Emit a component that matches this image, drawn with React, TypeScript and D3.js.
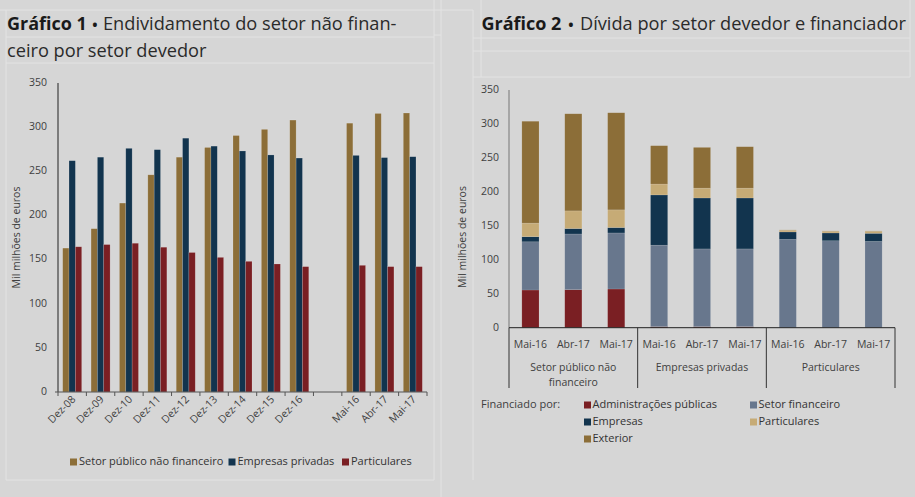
import React from "react";
import * as d3 from "d3";

// ---------- Chart 1 data ----------
const cats1 = ["Dez-08", "Dez-09", "Dez-10", "Dez-11", "Dez-12", "Dez-13", "Dez-14", "Dez-15", "Dez-16", "", "Mai-16", "Abr-17", "Mai-17"];
const setorPublico = [163, 185, 214, 246, 266, 277, 290.5, 297.5, 308, null, 304.5, 315.5, 316];
const empresasPrivadas = [262, 266, 276, 274.5, 287.5, 278.5, 273, 268.5, 265, null, 268, 265.5, 266.5];
const particulares = [164.5, 167, 168.5, 164, 158, 152.5, 148, 145, 142, null, 143.5, 142, 142];
const series1Names = ["Setor público não financeiro", "Empresas privadas", "Particulares"];
const yTicks1 = [0, 50, 100, 150, 200, 250, 300, 350];

// ---------- Chart 2 data ----------
const groups2 = ["Setor público não|financeiro", "Empresas privadas", "Particulares"];
const periods2 = ["Mai-16", "Abr-17", "Mai-17"];
const admPublicas = [55.5, 56, 57, 1.5, 1.5, 1.5, 0, 0, 0];
const setorFinanceiro = [71, 82, 82.5, 120, 114.5, 114.5, 130, 128, 127];
const empresas = [7.5, 8, 8, 74, 75, 75, 11, 11.5, 12];
const particularesFin = [20, 26, 26, 16, 14.5, 14.5, 2.5, 2.5, 3];
const exterior = [150, 143, 143, 56.5, 60, 61, 0.5, 0.5, 0.5];
const series2Names = ["Administrações públicas", "Setor financeiro", "Empresas", "Particulares", "Exterior"];
const yTicks2 = [0, 50, 100, 150, 200, 250, 300, 350];

const GOLD = "#8c6e38";
const NAVY = "#12344e";
const RED = "#7a1f23";
const GRAYBLUE = "#68778d";
const BEIGE = "#c6ab76";
const colors1 = [GOLD, NAVY, RED];
const colors2 = [RED, GRAYBLUE, NAVY, BEIGE, GOLD];

const FONT = "'Open Sans', 'DejaVu Sans', sans-serif";
const LINE = "#e3e3e3";

function Chart1() {
  const x = d3.scaleBand<number>().domain(d3.range(cats1.length)).range([58, 427]).padding(0);
  const y = d3.scaleLinear().domain([0, 350]).range([392, 83]);
  const bw = x.bandwidth();
  const groupW = bw * 0.67;
  const inner = d3.scaleBand<number>().domain([0, 1, 2]).range([0, groupW]).padding(0);
  const data = [setorPublico, empresasPrivadas, particulares];
  const boundaries = d3.range(cats1.length + 1).map((i) => 58 + i * bw);

  return (
    <g>
      <text transform={`translate(17,237.5) rotate(-90)`} textAnchor="middle" dominantBaseline="middle" fontSize={10.5} fill="#404040" fontFamily={FONT}>
        Mil milhões de euros
      </text>
      {yTicks1.map((t) => (
        <text key={t} x={47} y={y(t)} textAnchor="end" dominantBaseline="middle" fontSize={10.5} fill="#404040" fontFamily={FONT}>
          {t}
        </text>
      ))}
      {data.map((s, si) =>
        s.map((v, i) =>
          v == null ? null : (
            <rect
              key={`${si}-${i}`}
              x={(x(i) as number) + (bw - groupW) / 2 + (inner(si) as number)}
              y={y(v)}
              width={inner.bandwidth()}
              height={y(0) - y(v)}
              fill={colors1[si]}
              stroke="rgba(255,255,255,0.25)"
              strokeWidth={0.6}
            />
          )
        )
      )}
      <line x1={58} x2={58} y1={83} y2={392} stroke="#222" strokeWidth={1} />
      <line x1={55} x2={427} y1={392} y2={392} stroke="#555" strokeWidth={1} />
      {boundaries.map((b, i) => (
        <line key={i} x1={b} x2={b} y1={392} y2={396} stroke="#555" strokeWidth={1} />
      ))}
      {cats1.map((c, i) =>
        c ? (
          <text
            key={c + i}
            transform={`translate(${(x(i) as number) + bw / 2 + 4},${400}) rotate(-45)`}
            textAnchor="end"
            fontSize={10.5}
            fill="#404040"
            fontFamily={FONT}
          >
            {c}
          </text>
        ) : null
      )}
      {series1Names.map((n, i) => {
        const lx = [70, 228.5, 342][i];
        return (
          <g key={n}>
            <rect x={lx} y={458.5} width={7} height={7} fill={colors1[i]} />
            <text x={lx + 9} y={462} dominantBaseline="middle" fontSize={11} fill="#333" fontFamily={FONT}>
              {n}
            </text>
          </g>
        );
      })}
    </g>
  );
}

function Chart2() {
  const n = periods2.length * groups2.length;
  const x = d3.scaleBand<number>().domain(d3.range(n)).range([509, 895]).paddingInner(0.6).paddingOuter(0.3);
  const y = d3.scaleLinear().domain([0, 350]).range([327.7, 90]);
  const table = d3.range(n).map((i) => ({
    i,
    a: admPublicas[i],
    b: setorFinanceiro[i],
    c: empresas[i],
    d: particularesFin[i],
    e: exterior[i],
  }));
  const stack = d3.stack<any>().keys(["a", "b", "c", "d", "e"]);
  const layers = stack(table);
  const groupW = (895 - 509) / groups2.length;
  const seps = d3.range(groups2.length + 1).map((g) => 509 + g * groupW);

  return (
    <g>
      <text transform={`translate(463,237) rotate(-90)`} textAnchor="middle" dominantBaseline="middle" fontSize={10.5} fill="#404040" fontFamily={FONT}>
        Mil milhões de euros
      </text>
      {yTicks2.map((t) => (
        <text key={t} x={499} y={y(t)} textAnchor="end" dominantBaseline="middle" fontSize={10.5} fill="#404040" fontFamily={FONT}>
          {t}
        </text>
      ))}
      {layers.map((layer, li) =>
        layer.map((d, i) =>
          d[1] - d[0] <= 0 ? null : (
            <rect
              key={`${li}-${i}`}
              x={x(i) as number}
              y={y(d[1])}
              width={x.bandwidth()}
              height={y(d[0]) - y(d[1])}
              fill={colors2[li]}
              stroke="rgba(255,255,255,0.2)"
              strokeWidth={0.6}
            />
          )
        )
      )}
      <line x1={509} x2={509} y1={90} y2={327.7} stroke="#777" strokeWidth={1} />
      <line x1={509} x2={895} y1={327.7} y2={327.7} stroke="#222" strokeWidth={1} />
      {seps.map((s, i) => (
        <line key={i} x1={s} x2={s} y1={327.7} y2={388} stroke="#333" strokeWidth={1} />
      ))}
      {d3.range(n).map((i) => (
        <text key={i} x={(x(i) as number) + x.bandwidth() / 2} y={348} textAnchor="middle" fontSize={10.5} fill="#404040" fontFamily={FONT}>
          {periods2[i % periods2.length]}
        </text>
      ))}
      {groups2.map((g, gi) => {
        const cx = 509 + gi * groupW + groupW / 2;
        return g.split("|").map((ln, li) => (
          <text key={gi + "-" + li} x={cx} y={371 + li * 15} textAnchor="middle" fontSize={10.5} fill="#404040" fontFamily={FONT}>
            {ln}
          </text>
        ));
      })}
      <text x={481} y={405} dominantBaseline="middle" fontSize={11} fill="#404040" fontFamily={FONT}>
        Financiado por:
      </text>
      {series2Names.map((nm, i) => {
        const col = i % 2;
        const row = Math.floor(i / 2);
        const lx = col === 0 ? 584 : 750;
        const ly = 405 + row * 17;
        return (
          <g key={nm}>
            <rect x={lx} y={ly - 3.5} width={7} height={7} fill={colors2[i]} />
            <text x={lx + 8.5} y={ly} dominantBaseline="middle" fontSize={11} fill="#333" fontFamily={FONT}>
              {nm}
            </text>
          </g>
        );
      })}
    </g>
  );
}

function Title({ x0, xb, xt, label, rest }: { x0: number; xb: number; xt: number; label: string; rest: string }) {
  return (
    <g fontFamily={FONT}>
      <text x={x0} y={30} fontSize={18} fontWeight={700} fill="#1a1a1a">
        {label}
      </text>
      <text x={xb} y={30} fontSize={14} fontWeight={700} fill="#1a1a1a" textAnchor="middle">
        •
      </text>
      <text x={xt} y={30} fontSize={18.2} fill="#2a2a2a">
        {rest}
      </text>
    </g>
  );
}

export default function App() {
  return (
    <div style={{ position: "fixed", left: 0, top: 0, width: 915, height: 497, background: "#d6d6d6" }}>
      <svg width={915} height={497} style={{ display: "block" }}>
        <rect x={0} y={0} width={915} height={497} fill="#d6d6d6" />
        <g stroke={LINE} strokeWidth={1}>
          <line x1={0} x2={473} y1={10} y2={10} />
          <line x1={6} x2={6} y1={10} y2={480} />
          <line x1={434} x2={434} y1={0} y2={480} />
          <line x1={441} x2={441} y1={0} y2={497} />
          <line x1={6} x2={434} y1={37} y2={37} />
          <line x1={6} x2={434} y1={63} y2={63} />
          <line x1={6} x2={434} y1={480} y2={480} />
          <line x1={434} x2={441} y1={35} y2={35} />
          <line x1={473} x2={473} y1={10} y2={480} />
          <line x1={481} x2={481} y1={0} y2={77} />
          <line x1={473} x2={910} y1={38} y2={38} />
          <line x1={473} x2={910} y1={51} y2={51} />
          <line x1={473} x2={910} y1={77} y2={77} />
          <line x1={910} x2={910} y1={0} y2={77} />
        </g>
        <Title x0={7} xb={95} xt={103} label="Gráfico 1" rest="Endividamento do setor não finan-" />
        <text x={7} y={57} fontSize={18.2} fill="#2a2a2a" fontFamily={FONT}>
          ceiro por setor devedor
        </text>
        <Title x0={481.5} xb={571} xt={580} label="Gráfico 2" rest="Dívida por setor devedor e financiador" />
        <Chart1 />
        <Chart2 />
      </svg>
    </div>
  );
}
